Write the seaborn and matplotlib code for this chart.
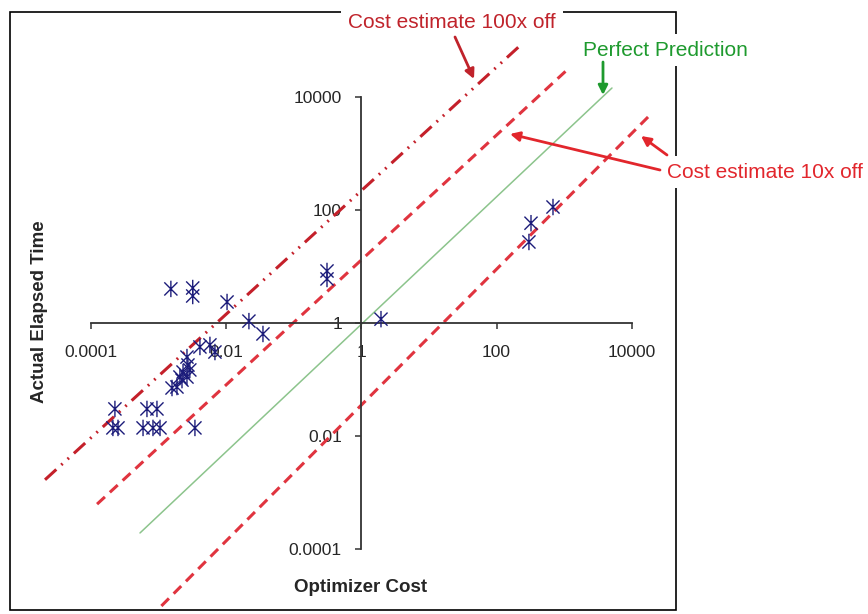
# Optimizer cost vs actual elapsed time, log-log with axes crossing at 1

import numpy as np
import pandas as pd
import seaborn as sns
import matplotlib.pyplot as plt
from matplotlib.path import Path
from matplotlib.patches import Rectangle

# measured queries
opt_cost = [0.00152, 0.0032, 0.0032, 0.0103, 0.0217, 0.035, 0.31, 0.31, 1.95,
            683, 323, 301,
            0.00409, 0.00575, 0.00682, 0.00263, 0.00272, 0.0023, 0.0029,
            0.00207, 0.00263, 0.00222, 0.00158, 0.00187,
            0.000226, 0.000673, 0.000946,
            0.000211, 0.000251, 0.000589, 0.000826, 0.00105, 0.00345]
elapsed = [4.0, 4.15, 3.0, 2.35, 1.08, 0.64, 8.3, 6.0, 1.17,
           112, 58, 27,
           0.377, 0.41, 0.307, 0.25, 0.181, 0.136, 0.148,
           0.111, 0.111, 0.098, 0.071, 0.074,
           0.0303, 0.0303, 0.0303,
           0.014, 0.014, 0.014, 0.014, 0.014, 0.014]

# hand drawn guide lines (end points)
off100_x = [2.09e-5, 245]
off100_y = [1.7e-3, 8.85e4]
off10_hi_x = [1.23e-4, 1099]
off10_hi_y = [6.3e-4, 2.95e4]
perfect_x = [5.31e-4, 5093]
perfect_y = [1.95e-4, 1.42e4]
off10_lo_x = [1.1e-3, 1.74e4]
off10_lo_y = [1e-5, 4365]

ticks = [1e-4, 1e-2, 1, 1e2, 1e4]
tick_labels = ['0.0001', '0.01', '1', '100', '10000']

sns.set_theme(style='white')
plt.rcParams['font.family'] = ['Liberation Sans', 'DejaVu Sans']

W, H = 868, 614
fig = plt.figure(figsize=(W / 100, H / 100), dpi=100)


def fp(px, py):
    # pixel position -> figure fraction
    return (px / W, 1 - py / H)


ax = fig.add_axes([20 / W, (H - 610) / H, 840 / W, 595 / H])
ax.patch.set_visible(False)
ax.set_xscale('log')
ax.set_yscale('log')
ax.set_xlim(10 ** -5.05, 10 ** 7.376)
ax.set_ylim(10 ** -5.071, 10 ** 5.442)

sns.lineplot(x=perfect_x, y=perfect_y, ax=ax, color='#8cc48c', linewidth=1.1)
sns.lineplot(x=off10_hi_x, y=off10_hi_y, ax=ax, color='#e0343f', linewidth=2.2,
             linestyle=(0, (3.5, 2.2)))
sns.lineplot(x=off10_lo_x, y=off10_lo_y, ax=ax, color='#e0343f', linewidth=2.2,
             linestyle=(0, (3.5, 2.2)))
sns.lineplot(x=off100_x, y=off100_y, ax=ax, color='#c4202a', linewidth=2.2,
             linestyle=(0, (5, 2.2, 0.6, 2.2, 0.6, 2.2)))

star = Path([(0, -1), (0, 1), (-0.8, -0.8), (0.8, 0.8), (-0.8, 0.8), (0.8, -0.8)],
            [Path.MOVETO, Path.LINETO, Path.MOVETO, Path.LINETO, Path.MOVETO, Path.LINETO])
df = pd.DataFrame({'cost': opt_cost, 'time': elapsed})
sns.scatterplot(data=df, x='cost', y='time', ax=ax, marker=star, s=140,
                color='#1c1c7a', facecolor='none', edgecolor='#1c1c7a',
                linewidth=1.0, zorder=5)

# axes crossing at (1, 1)
for side in ['top', 'right']:
    ax.spines[side].set_visible(False)
for side in ['left', 'bottom']:
    ax.spines[side].set_position(('data', 1))
    ax.spines[side].set_bounds(1e-4, 1e4)
    ax.spines[side].set_color('#333333')
    ax.spines[side].set_linewidth(1.3)
ax.set_xticks(ticks, tick_labels)
ax.set_yticks(ticks, tick_labels)
ax.minorticks_off()
ax.tick_params(axis='x', direction='out', length=4, width=1.1, color='#333333',
               pad=12, labelsize=12.5, bottom=True)
ax.tick_params(axis='y', direction='out', length=4, width=1.1, color='#333333',
               pad=10, labelsize=12.5, left=True)
ax.set_xlabel('')
ax.set_ylabel('')

fig.text(*fp(361, 588), 'Optimizer Cost', ha='center', va='center',
         fontsize=13.5, fontweight='bold')
fig.text(*fp(40, 312), 'Actual Elapsed Time', ha='center', va='center',
         rotation=90, fontsize=13.5, fontweight='bold')

# chart border
fig.add_artist(Rectangle(fp(10, 610), 666 / W, 598 / H, transform=fig.transFigure,
                         fill=False, edgecolor='black', linewidth=1.2, zorder=-1))

white = dict(facecolor='white', edgecolor='none', pad=5)
ax.text(*fp(452, 22), 'Cost estimate 100x off', transform=fig.transFigure,
        ha='center', va='center', fontsize=15, color='#c0232b', bbox=white)
ax.text(*fp(665, 50), 'Perfect Prediction', transform=fig.transFigure,
        ha='center', va='center', fontsize=15, color='#1e9a2e', bbox=white)
ax.text(*fp(765, 172), 'Cost estimate 10x off', transform=fig.transFigure,
        ha='center', va='center', fontsize=15, color='#e2262c', bbox=white)

arrows = [((455, 37), (474, 79), '#c0232b'),
          ((603, 62), (603, 95), '#1e9a2e'),
          ((660, 170), (510, 134), '#e2262c'),
          ((667, 155), (641, 136), '#e2262c')]
for start, end, col in arrows:
    ax.annotate('', xy=fp(*end), xycoords='figure fraction',
                xytext=fp(*start), textcoords='figure fraction',
                annotation_clip=False,
                arrowprops=dict(arrowstyle='-|>', color=col, lw=2,
                                mutation_scale=14, shrinkA=0, shrinkB=0))

fig.savefig('out.png', dpi=100)
